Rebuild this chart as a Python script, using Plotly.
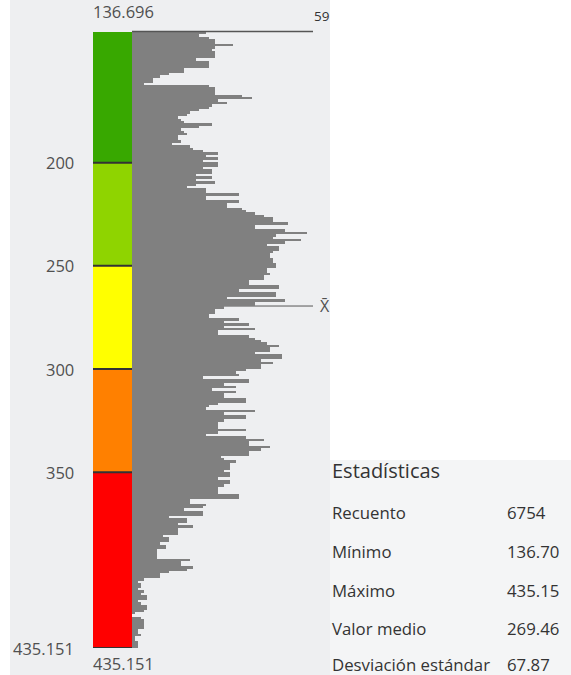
import plotly.graph_objects as go

W, H = 571, 675
VMIN, VMAX = 136.696, 435.151
COUNT_MAX = 59
MEAN = 269.46

# histogram counts, 256 bins from VMIN (top) to VMAX (bottom)
counts = [
    24, 22, 25, 27, 27, 33, 27, 26, 27, 27, 27, 21, 25, 25, 25, 17, 17, 12, 9, 7,
    7, 4, 25, 27, 27, 27, 36, 39, 28, 31, 26, 25, 22, 19, 18, 15,
    16, 17, 26, 22, 16, 17, 18, 15, 15, 16, 13, 19, 20, 23, 28, 24, 28, 23, 28, 28,
    23, 26, 26, 21, 26, 21, 27, 21, 18, 24, 24, 35, 24, 24, 35, 31, 31, 36,
    37, 40, 43, 46, 46, 51, 40, 40, 50, 57, 47, 46, 55, 50, 44, 48, 48, 46, 45, 45,
    46, 46, 47, 47, 44, 44, 45, 43, 43, 38, 38, 48, 48, 35, 47, 47, 31, 50,
    40, 40, 30, 27, 27, 25, 25, 35, 30, 38, 30, 40, 28, 28, 38, 40, 42, 44, 48, 45,
    45, 40, 49, 49, 42, 46, 42, 42, 37, 34, 35, 23, 38, 38, 30, 34, 26,
    34, 30, 30, 37, 37, 28, 25, 24, 40, 30, 37, 37, 30, 28, 28, 28, 37, 28, 24, 37,
    43, 38, 38, 45, 42, 38, 38, 29, 30, 34, 32, 32, 32, 30, 32, 32, 28,
    32, 32, 30, 28, 28, 28, 35, 35, 19, 19, 24, 23, 17, 23, 23, 12, 18, 18, 15, 20,
    15, 15, 15, 10, 12, 12, 9, 11, 11, 8, 8, 8, 8, 19, 16, 16, 20,
    18, 12, 9, 9, 4, 2, 3, 3, 2, 4, 3, 5, 5, 2, 3, 5, 5, 4, 1, 0,
    3, 4, 4, 4, 4, 2, 2, 3, 1, 1, 2, 2, 2,
]

class_breaks = [VMIN, 200, 250, 300, 350, VMAX]
class_colors = ["#38a800", "#8fd400", "#ffff00", "#ff8000", "#ff0000"]
tick_values = [200, 250, 300, 350, 435.151]
tick_labels = ["200", "250", "300", "350", "435.151"]

stat_title = "Estadísticas"
stat_names = ["Recuento", "Mínimo", "Máximo", "Valor medio", "Desviación estándar"]
stat_values = ["6754", "136.70", "435.15", "269.46", "67.87"]

N_BINS = len(counts)
bin_w = (VMAX - VMIN) / N_BINS
centers = [VMIN + bin_w * (i + 0.5) for i in range(N_BINS)]

L, R, T, B = 132, W - 313, 32, H - 648
PW, PH = W - L - R, H - T - B


def px(x):
    return (x - L) / PW


def py(y):
    return (H - B - y) / PH


FONT = "Open Sans"
fig = go.Figure()
fig.add_trace(go.Bar(
    x=counts, y=centers, orientation="h", width=bin_w,
    marker=dict(color="#808080", line=dict(width=0)), hoverinfo="skip",
))
tri_x = (85 - L) / PW * COUNT_MAX
fig.add_trace(go.Scatter(
    x=[tri_x] * len(tick_values), y=tick_values, mode="markers",
    marker=dict(symbol="triangle-right", size=11, color="#5a5a5a"),
    cliponaxis=False, hoverinfo="skip",
))

shapes = [
    dict(type="rect", xref="paper", yref="paper", x0=px(10), x1=px(330), y0=py(H), y1=py(0),
         fillcolor="#eeeff1", line=dict(width=0), layer="below"),
    dict(type="rect", xref="paper", yref="paper", x0=px(330), x1=px(W), y0=py(H), y1=py(460),
         fillcolor="#f4f5f6", line=dict(width=0), layer="below"),
    dict(type="line", xref="x", yref="y", x0=0, x1=COUNT_MAX, y0=MEAN, y1=MEAN,
         line=dict(color="#555555", width=1), layer="below"),
]
for i, c in enumerate(class_colors):
    shapes.append(dict(type="rect", xref="paper", yref="y", x0=px(93), x1=0,
                       y0=class_breaks[i], y1=class_breaks[i + 1],
                       fillcolor=c, line=dict(width=0), layer="above"))
for b in class_breaks[1:]:
    shapes.append(dict(type="line", xref="paper", yref="y", x0=px(93), x1=0, y0=b, y1=b,
                       line=dict(color="#333333", width=2)))
shapes.append(dict(type="line", xref="x", yref="paper", x0=0, x1=COUNT_MAX,
                   y0=py(31.5), y1=py(31.5), line=dict(color="#555555", width=1.5)))


def text(x, y, t, size, color, xanchor="left", yref="paper"):
    return dict(x=x, y=y, xref="paper", yref=yref, text=t, showarrow=False,
                xanchor=xanchor, yanchor="middle", font=dict(size=size, color=color))


ann = []
for v, t in zip(tick_values, tick_labels):
    ann.append(text(px(76), v, t, 16.5, "#505050", xanchor="right", yref="y"))
ann.append(text(px(91), py(12), f"{VMIN:.3f}", 16.5, "#505050"))
ann.append(text(px(91), py(663), f"{VMAX:.3f}", 16.5, "#505050"))
ann.append(text(px(321), py(16), str(COUNT_MAX), 13.5, "#333333", xanchor="center"))
ann.append(text(px(318), MEAN, "X̄", 16, "#505050", yref="y"))
ann.append(text(px(330), py(470), stat_title, 20, "#333333"))
stat_rows_y = [512, 551, 590, 628, 664]
for n, v, yy in zip(stat_names, stat_values, stat_rows_y):
    ann.append(text(px(330), py(yy), n, 16.8, "#333333"))
    ann.append(text(px(505), py(yy), v, 16.8, "#333333"))

fig.update_layout(
    width=W, height=H, margin=dict(l=L, r=R, t=T, b=B, pad=0),
    paper_bgcolor="white", plot_bgcolor="rgba(0,0,0,0)",
    bargap=0, showlegend=False, font=dict(family=FONT),
    xaxis=dict(range=[0, COUNT_MAX], visible=False, fixedrange=True),
    yaxis=dict(range=[VMAX, VMIN], visible=False, fixedrange=True),
    shapes=shapes, annotations=ann,
)
fig.write_html(
    "out.html",
    config={"displayModeBar": False},
    post_script="document.body.style.margin='0';document.body.style.overflow='hidden';",
)
